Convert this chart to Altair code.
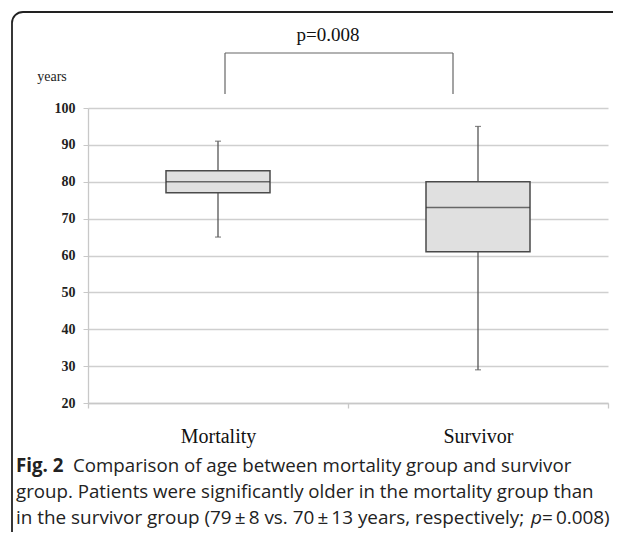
import altair as alt
import pandas as pd

# ---- data ----
groups = ["Mortality", "Survivor"]
whisker_low = [65, 29]
q1 = [77, 61]
median = [80, 73]
q3 = [83, 80]
whisker_high = [91, 95]

y_ticks = [20, 30, 40, 50, 60, 70, 80, 90, 100]
y_unit = "years"
p_label = "p=0.008"
caption_bold = "Fig. 2"
caption_l1 = "Comparison of age between mortality group and survivor"
caption_l2 = "group. Patients were significantly older in the mortality group than"
caption_l3a = "in the survivor group (79\u2009\u00b1\u20098 vs. 70\u2009\u00b1\u200913 years, respectively;"
caption_l3p = "p"
caption_l3b = "\u2009=\u20090.008)"

df = pd.DataFrame({
    "group": groups,
    "low": whisker_low,
    "q1": q1,
    "median": median,
    "q3": q3,
    "high": whisker_high,
})

SERIF = "Liberation Serif"
SANS = "Open Sans"

yscale = alt.Scale(domain=[20, 100], nice=False, zero=False)
yaxis = alt.Axis(
    values=y_ticks, labelFont=SERIF, labelFontSize=14, labelFontWeight="bold",
    labelColor="#222", tickSize=5, labelPadding=8, tickColor="#c8c8c8",
    domainColor="#c8c8c8", domainWidth=1.3, gridColor="#cfcfcf", gridWidth=1.5,
    labelOverlap=False,
)
xenc = alt.X(
    "group:N",
    sort=groups,
    scale=alt.Scale(paddingInner=0, paddingOuter=0),
    title=None,
    axis=alt.Axis(
        labelFont=SERIF, labelFontSize=20, labelColor="#111", labelAngle=0,
        labelBaseline="alphabetic", labelPadding=34,
        tickBand="extent", tickSize=5, tickColor="#c8c8c8", tickWidth=1.3,
        domainColor="#c8c8c8", domainWidth=1.5, grid=False,
    ),
)

base = alt.Chart(df).encode(x=xenc)

def Y(field):
    return alt.Y(field, scale=yscale, axis=yaxis, title=None)

whisker = base.mark_rule(color="#555555", strokeWidth=1.3).encode(y=Y("low:Q"), y2="high:Q")
box = base.mark_bar(size=104, fill="#e0e0e0", stroke="#4a4a4a", strokeWidth=1.5).encode(
    y=Y("q1:Q"), y2="q3:Q"
)
med = base.mark_tick(size=104, thickness=1.6, color="#333333").encode(y=Y("median:Q"))
cap_lo = base.mark_tick(size=6, thickness=1.2, color="#555555").encode(y=Y("low:Q"))
cap_hi = base.mark_tick(size=6, thickness=1.2, color="#555555").encode(y=Y("high:Q"))

one = pd.DataFrame({"k": [0]})

frame = alt.Chart(one).mark_rect(
    fillOpacity=0, stroke="#222222", strokeWidth=1.8, cornerRadius=11
).encode(x=alt.value(-76), x2=alt.value(620), y=alt.value(-96), y2=alt.value(620))

def rule(x, y, x2=None, y2=None):
    enc = {"x": alt.value(x), "y": alt.value(y)}
    if x2 is not None:
        enc["x2"] = alt.value(x2)
    if y2 is not None:
        enc["y2"] = alt.value(y2)
    return alt.Chart(one).mark_rule(color="#666666", strokeWidth=1.2).encode(**enc)

bracket = [rule(137, -55, x2=365), rule(137, -55, y2=-14), rule(365, -55, y2=-14)]

def text(t, x, y, font, size, weight="normal", align="left", style="normal", color="#111"):
    return alt.Chart(pd.DataFrame({"t": [t]})).mark_text(
        font=font, fontSize=size, fontWeight=weight, align=align, fontStyle=style,
        baseline="alphabetic", color=color,
    ).encode(x=alt.value(x), y=alt.value(y), text="t:N")

CS = 18.7
CS3 = 18.9
texts = [
    text(y_unit, -36, -27, SERIF, 14, align="center", color="#222"),
    text(p_label, 240, -67, SERIF, 19, align="center"),
    text(caption_bold, -72, 364, SANS, CS, weight="bold", color="#222"),
    text(caption_l1, -15, 364, SANS, CS, color="#222"),
    text(caption_l2, -72, 390, SANS, CS, color="#222"),
    text(caption_l3a, -72, 416, SANS, CS3, color="#222"),
    text(caption_l3p, 443, 416, SANS, CS3, style="italic", color="#222"),
    text(caption_l3b, 454, 416, SANS, CS3, color="#222"),
]

chart = alt.layer(
    whisker, box, med, cap_lo, cap_hi, frame, *bracket, *texts
).properties(
    width=520, height=295,
    autosize=alt.AutoSizeParams(type="none"),
    padding={"left": 80, "top": 100, "right": 5, "bottom": 129},
).configure_view(stroke=None)

chart.save("out.html", embed_options={"renderer": "svg", "actions": False})
